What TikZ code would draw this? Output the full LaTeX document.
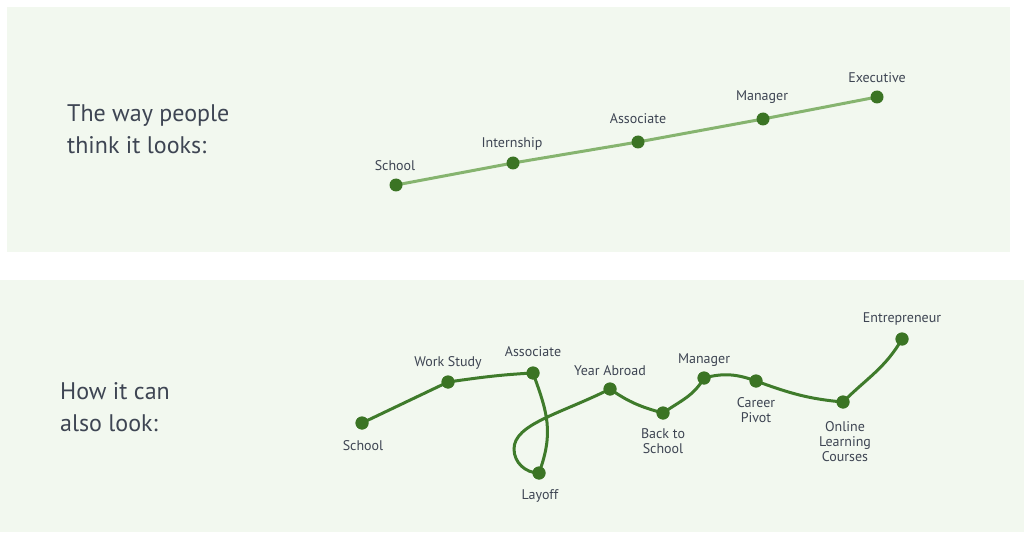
\documentclass[tikz,border=0pt]{standalone}
\usepackage{fontspec}
\setmainfont{PT Sans}
\definecolor{panelbg}{HTML}{F2F8EF}
\definecolor{txt}{HTML}{3E4553}
\definecolor{dotgreen}{HTML}{3B7424}
\definecolor{lightline}{HTML}{86B46F}
\definecolor{darkline}{HTML}{3F7B2B}
\begin{document}
\begin{tikzpicture}[x=1pt,y=1pt,
  panel/.style={fill=panelbg,draw=none},
  dot/.style={circle,fill=dotgreen,draw=none,inner sep=0pt,minimum size=13pt},
  lbl/.style={text=txt,font=\fontsize{14}{15}\selectfont,inner sep=0pt,anchor=north,align=center},
  title/.style={text=txt,font=\fontsize{24}{32}\selectfont,inner sep=0pt,anchor=base west},
  straightpath/.style={draw=lightline,line width=3pt},
  windingpath/.style={draw=darkline,line width=3pt}]
\useasboundingbox (0,0) rectangle (1024,-537);
\fill[white] (0,0) rectangle (1024,-537);
\path[panel] (7,-7) rectangle (1010,-252);
\path[panel] (0,-280) rectangle (1024,-532);

% ---- top panel ----
\node[title] (t1a) at (67,-122) {The way people};
\node[title] (t1b) at (67,-154) {think it looks:};

\coordinate (ps) at (396,-185);
\coordinate (pi) at (513,-163);
\coordinate (pa) at (638,-142);
\coordinate (pm) at (763,-119);
\coordinate (pe) at (877,-97);
\draw[straightpath] (ps) -- (pi) -- (pa) -- (pm) -- (pe);
\node[dot] (a1) at (ps) {};
\node[dot] (a2) at (pi) {};
\node[dot] (a3) at (pa) {};
\node[dot] (a4) at (pm) {};
\node[dot] (a5) at (pe) {};
\node[lbl] (la1) at (395,-160) {School};
\node[lbl] (la2) at (512,-137) {Internship};
\node[lbl] (la3) at (638,-113) {Associate};
\node[lbl] (la4) at (762,-91) {Manager};
\node[lbl] (la5) at (877,-72) {Executive};

% ---- bottom panel ----
\node[title] (t2a) at (60,-399) {How it can};
\node[title] (t2b) at (60,-431) {also look:};

\node[dot] (bs) at (362,-423) {};
\node[dot] (bw) at (448,-382) {};
\node[dot] (ba) at (533,-373) {};
\node[dot] (bl) at (539,-473) {};
\node[dot] (by) at (610,-389) {};
\node[dot] (bb) at (663,-413) {};
\node[dot] (bm) at (704,-378) {};
\node[dot] (bc) at (756,-381) {};
\node[dot] (bo) at (843,-402) {};
\node[dot] (be) at (902,-339) {};
\coordinate (loopleft) at (514,-449);

\draw[windingpath] (bs.center) -- (bw.center) to[out=8,in=183] (ba.center)
  to[out=-70,in=70,looseness=1.1] (bl.center)
  to[out=180,in=-90] (loopleft)
  .. controls +(0,25) and +(-50,-25) .. (by.center)
  to[out=-35,in=165] (bb.center)
  to[out=35,in=240] (bm.center)
  to[out=15,in=160] (bc.center)
  to[out=-20,in=175] (bo.center)
  to[out=45,in=240] (be.center);
\foreach \n in {bs,bw,ba,bl,by,bb,bm,bc,bo,be}{\node[dot] at (\n) {};}

\node[lbl] (lb1) at (363,-440) {School};
\node[lbl] (lb2) at (448,-356) {Work Study};
\node[lbl] (lb3) at (533,-346) {Associate};
\node[lbl] (lb4) at (540,-489) {Layoff};
\node[lbl] (lb5) at (610,-365) {Year Abroad};
\node[lbl] (lb6) at (663,-428) {Back to\\School};
\node[lbl] (lb7) at (704,-353) {Manager};
\node[lbl] (lb8) at (756,-397) {Career\\Pivot};
\node[lbl] (lb9) at (845,-421) {Online\\Learning\\Courses};
\node[lbl] (lb10) at (902,-312) {Entrepreneur};
\end{tikzpicture}
\end{document}
